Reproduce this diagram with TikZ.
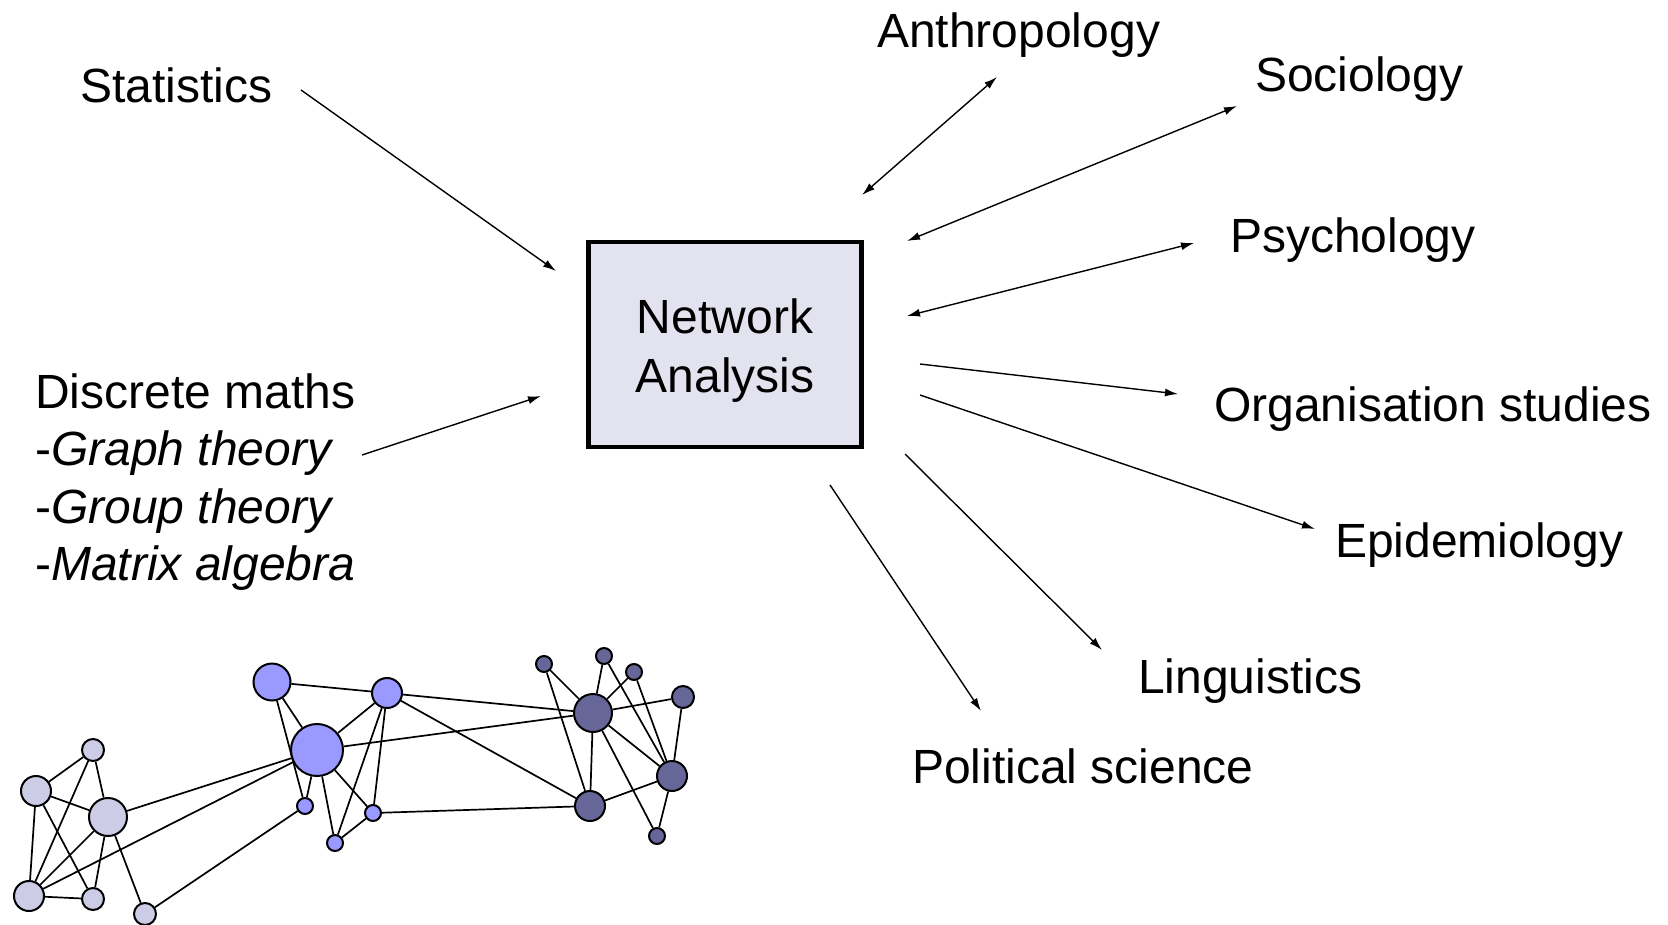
\documentclass[tikz,border=0pt]{standalone}
\usepackage{fontspec}
\setmainfont{Liberation Sans}
\usetikzlibrary{arrows.meta}
\definecolor{boxfill}{HTML}{E3E3F0}
\definecolor{cA}{HTML}{CCCCE6}
\definecolor{cB}{HTML}{9999FF}
\definecolor{cC}{HTML}{666699}
\begin{document}
\begin{tikzpicture}[x=1pt,y=-1pt,
 lbl/.style={anchor=base west, inner sep=0pt, font=\fontsize{48}{57.4}\selectfont},
 tipA/.tip={Latex[length=13pt,width=8pt]},
 arr/.style={line width=1.4pt, -tipA},
 darr/.style={line width=1.4pt, tipA-tipA},
 gn/.style={circle, draw, line width=2pt, inner sep=0pt, minimum size=#1},
 g1/.style={gn=#1, fill=cA},
 g2/.style={gn=#1, fill=cB},
 g3/.style={gn=#1, fill=cC},
 ed/.style={line width=1.7pt}
]
\useasboundingbox (0,0) rectangle (1668,924);
% central box
\node[draw, line width=4.8pt, fill=boxfill, minimum width=273pt, minimum height=205pt, inner sep=0pt] (na) at (725,344.5) {};
\node[align=center, inner sep=0pt, font=\fontsize{48}{59}\selectfont] (natext) at (725,351) {Network\\Analysis};
% labels
\node[lbl] (stat) at (80,102) {Statistics};
\node[lbl] (anth) at (877,47) {Anthropology};
\node[lbl] (soc) at (1255,91) {Sociology};
\node[lbl] (psy) at (1230,252) {Psychology};
\node[lbl] (org) at (1214,421) {Organisation studies};
\node[lbl] (epi) at (1335,557) {Epidemiology};
\node[lbl] (lin) at (1138,693) {Linguistics};
\node[lbl] (pol) at (912,783) {Political science};
\node[lbl, align=left, anchor=north west] (dm) at (35,373.5) {Discrete maths\\-\textit{Graph theory}\\-\textit{Group theory}\\-\textit{Matrix algebra}};
% arrow end points
\coordinate (s1) at (301,90);  \coordinate (s2) at (556,271);
\coordinate (d1) at (362,455); \coordinate (d2) at (541,396);
\coordinate (a1) at (862,195); \coordinate (a2) at (997,77);
\coordinate (so1) at (907,241); \coordinate (so2) at (1237,106);
\coordinate (p1) at (907,316); \coordinate (p2) at (1194,243);
\coordinate (o1) at (920,364); \coordinate (o2) at (1178,394);
\coordinate (e1) at (920,395); \coordinate (e2) at (1315,529);
\coordinate (l1) at (905,454); \coordinate (l2) at (1102,650);
\coordinate (po1) at (830,485); \coordinate (po2) at (981,711);
\draw[arr] (s1) -- (s2);
\draw[arr] (d1) -- (d2);
\draw[darr] (a1) -- (a2);
\draw[darr] (so1) -- (so2);
\draw[darr] (p1) -- (p2);
\draw[arr] (o1) -- (o2);
\draw[arr] (e1) -- (e2);
\draw[arr] (l1) -- (l2);
\draw[arr] (po1) -- (po2);
% network graph
\node[g1=22pt] (A) at (93,750) {};
\node[g1=30pt] (B) at (36,791) {};
\node[g1=38pt] (C) at (108,817) {};
\node[g1=30pt] (D) at (29,896) {};
\node[g1=22pt] (E) at (93,899) {};
\node[g1=22pt] (F) at (145,914) {};
\node[g2=37pt] (G) at (272,682) {};
\node[g2=30pt] (H) at (387,693) {};
\node[g2=52pt] (I) at (317,750) {};
\node[g2=16pt] (J) at (305,806) {};
\node[g2=16pt] (K) at (373,813) {};
\node[g2=16pt] (L) at (335,843) {};
\node[g3=16pt] (M) at (544,664) {};
\node[g3=16pt] (N) at (604,656) {};
\node[g3=16pt] (O) at (634,672) {};
\node[g3=38pt] (P) at (593,713) {};
\node[g3=22pt] (Q) at (683,697) {};
\node[g3=30pt] (R) at (672,776) {};
\node[g3=30pt] (S) at (590,806) {};
\node[g3=16pt] (T) at (657,836) {};
\foreach \u/\v in {A/B,A/C,A/D,B/C,B/D,B/E,C/D,C/E,D/E,C/F,C/I,D/I,F/J,
  G/H,G/I,G/J,H/I,H/K,H/L,I/J,I/K,I/L,K/L,I/P,K/S,
  H/P,H/S,M/P,M/S,N/P,N/R,O/P,O/R,P/Q,P/R,P/S,P/T,Q/R,R/T,S/R}
  \draw[ed] (\u) -- (\v);
\end{tikzpicture}
\end{document}
